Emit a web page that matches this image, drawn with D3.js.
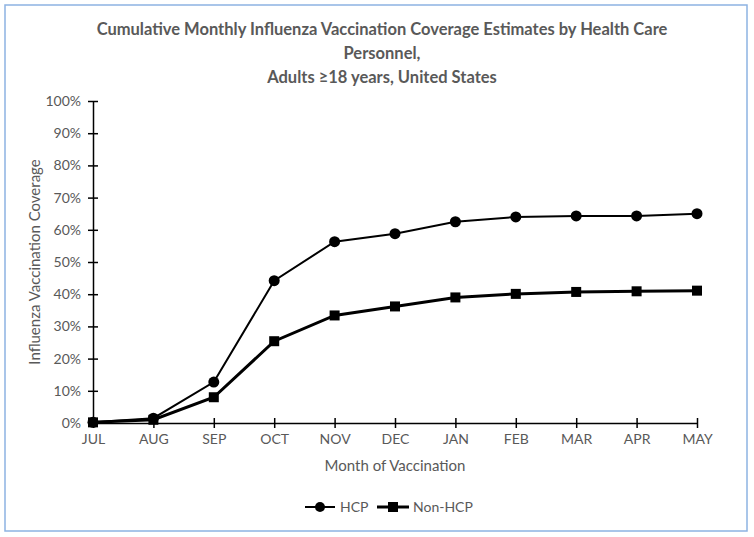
<!DOCTYPE html>
<html><head><meta charset="utf-8">
<script src="https://cdn.jsdelivr.net/npm/d3@7"></script>
<style>body{margin:0;background:#fff;} text{font-family:Lato,"Open Sans",sans-serif;}</style>
</head><body>
<svg id="c" width="754" height="537"></svg>
<script>
const months = ["JUL","AUG","SEP","OCT","NOV","DEC","JAN","FEB","MAR","APR","MAY"];
const hcp = [0.2, 1.5, 12.7, 44.2, 56.3, 58.8, 62.5, 64.0, 64.3, 64.3, 65.0];
const nonHcp = [0.2, 1.0, 8.0, 25.4, 33.4, 36.2, 39.0, 40.1, 40.7, 40.9, 41.1];
const yTicks = [0,10,20,30,40,50,60,70,80,90,100];
const titleLines = ["Cumulative Monthly Influenza Vaccination Coverage Estimates by Health Care","Personnel,","Adults \u226518 years, United States"];

const svg = d3.select("#c");
const F = "Lato,'Open Sans',sans-serif";
svg.append("rect").attr("x",5).attr("y",5).attr("width",742).attr("height",526)
  .attr("fill","#fff").attr("stroke","#8db3e2").attr("stroke-width",1.5);

const x = d3.scalePoint().domain(months).range([93,697]);
const y = d3.scaleLinear().domain([0,100]).range([423,101]);
const grey = "#595959";

svg.selectAll(".t").data(titleLines).enter().append("text")
  .attr("x",382).attr("y",(d,i)=>35+i*24).attr("text-anchor","middle")
  .attr("font-size",16.5).attr("font-weight","bold").attr("fill",grey).text(d=>d);

const ya = svg.append("g").attr("transform","translate(93,0)")
  .call(d3.axisLeft(y).tickValues(yTicks).tickFormat(d=>d+"%").tickSize(5).tickSizeOuter(0));
ya.select(".domain").attr("stroke","#000").attr("stroke-width",1.5);
ya.selectAll(".tick line").attr("x1",-5).attr("x2",5).attr("stroke","#000").attr("stroke-width",1.5);
ya.selectAll(".tick text").attr("x",-12).attr("font-size",14).attr("fill",grey).attr("font-family",F);

const xa = svg.append("g").attr("transform","translate(0,423)")
  .call(d3.axisBottom(x).tickSize(5).tickSizeOuter(0));
xa.select(".domain").attr("stroke","#000").attr("stroke-width",1.5);
xa.selectAll(".tick line").attr("y1",-5).attr("y2",5).attr("stroke","#000").attr("stroke-width",1.5);
xa.selectAll(".tick text").attr("y",11).attr("font-size",14).attr("fill",grey).attr("font-family",F);

svg.append("text").attr("x",395).attr("y",471).attr("text-anchor","middle")
  .attr("font-size",15).attr("fill",grey).text("Month of Vaccination");
svg.append("text").attr("transform","translate(40,262) rotate(-90)").attr("text-anchor","middle")
  .attr("font-size",15).attr("fill",grey).text("Influenza Vaccination Coverage");

const line = d3.line().x((d,i)=>x(months[i])).y(d=>y(d));
svg.append("path").datum(nonHcp).attr("d",line).attr("fill","none").attr("stroke","#000").attr("stroke-width",3);
svg.append("path").datum(hcp).attr("d",line).attr("fill","none").attr("stroke","#000").attr("stroke-width",2);
svg.selectAll(".sq").data(nonHcp).enter().append("rect")
  .attr("x",(d,i)=>x(months[i])-5).attr("y",d=>y(d)-5).attr("width",10).attr("height",10).attr("fill","#000");
svg.selectAll(".ci").data(hcp).enter().append("circle")
  .attr("cx",(d,i)=>x(months[i])).attr("cy",d=>y(d)).attr("r",5.5).attr("fill","#000");

// legend
const lg = svg.append("g");
lg.append("line").attr("x1",305).attr("x2",335).attr("y1",507).attr("y2",507).attr("stroke","#000").attr("stroke-width",2);
lg.append("circle").attr("cx",320).attr("cy",507).attr("r",5).attr("fill","#000");
lg.append("text").attr("x",340).attr("y",512).attr("font-size",14).attr("fill",grey).text("HCP");
lg.append("line").attr("x1",377).attr("x2",409).attr("y1",507).attr("y2",507).attr("stroke","#000").attr("stroke-width",3);
lg.append("rect").attr("x",388).attr("y",502).attr("width",10).attr("height",10).attr("fill","#000");
lg.append("text").attr("x",413).attr("y",512).attr("font-size",14).attr("fill",grey).text("Non-HCP");
</script>
</body></html>
